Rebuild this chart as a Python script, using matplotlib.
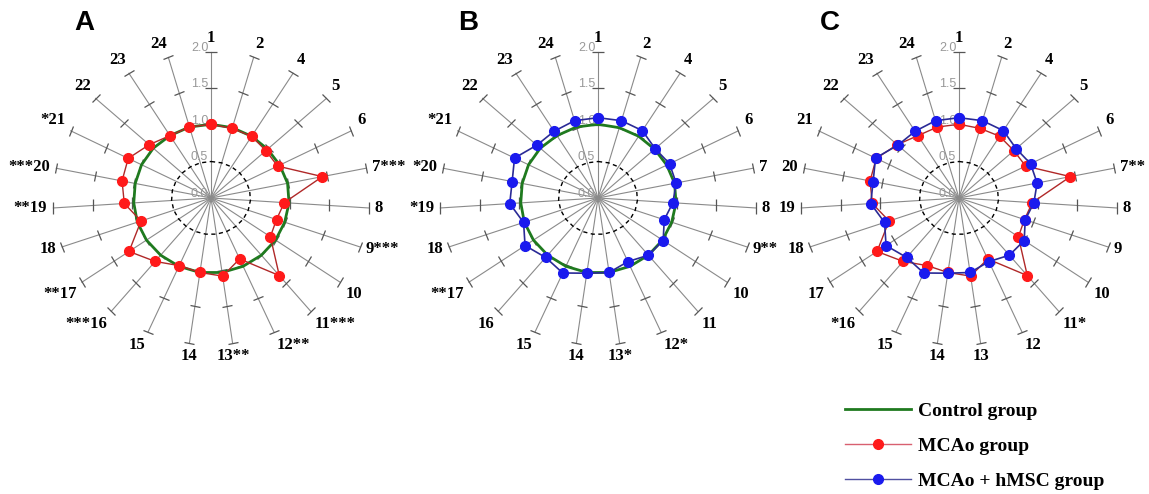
import numpy as np
import matplotlib.pyplot as plt
from matplotlib.markers import MarkerStyle
from matplotlib.transforms import Affine2D, offset_copy
from matplotlib.lines import Line2D

# test items on the spokes (no 3), clockwise from the top
items = ['1', '2', '4', '5', '6', '7', '8', '9', '10', '11', '12', '13',
         '14', '15', '16', '17', '18', '19', '20', '21', '22', '23', '24']

# spoke labels with significance stars, one list per panel
labels_a = ['1', '2', '4', '5', '6', '7***', '8', '9***', '10', '11***', '12**', '13**',
            '14', '15', '***16', '**17', '18', '**19', '***20', '*21', '22', '23', '24']
labels_b = ['1', '2', '4', '5', '6', '7', '8', '9**', '10', '11', '12*', '13*',
            '14', '15', '16', '**17', '18', '*19', '*20', '*21', '22', '23', '24']
labels_c = ['1', '2', '4', '5', '6', '7**', '8', '9', '10', '11*', '12', '13',
            '14', '15', '*16', '17', '18', '19', '20', '21', '22', '23', '24']

# normalised scores
control = [1.01, 1.00, 0.99, 0.98, 0.98, 0.99, 0.99, 0.99, 1.00, 1.01, 1.02, 1.03,
           1.03, 1.02, 1.01, 1.00, 0.99, 0.98, 0.98, 0.99, 1.00, 1.00, 1.01]
mcao = [1.01, 0.99, 0.99, 0.95, 0.95, 1.44, 0.93, 0.88, 0.92, 1.37, 0.91, 1.08,
        1.03, 1.01, 1.12, 1.27, 0.94, 1.10, 1.15, 1.18, 1.07, 1.00, 1.01]
hmsc = [1.10, 1.10, 1.08, 0.99, 1.02, 1.01, 0.95, 0.89, 1.01, 1.01, 0.95, 1.03,
        1.04, 1.12, 1.05, 1.13, 1.00, 1.12, 1.11, 1.19, 1.06, 1.07, 1.10]

rticks = [0.0, 0.5, 1.0, 1.5, 2.0]

W, H = 1149, 494
fig = plt.figure(figsize=(W / 100, H / 100), dpi=100)

n = len(items)
theta = np.arange(n) * 2 * np.pi / n
tclosed = np.append(theta, theta[0])

GREEN = '#1f7a1f'
RED_LINE = '#b02828'
RED_DOT = '#ff1a1a'
BLUE_LINE = '#2a2a96'
BLUE_DOT = '#1a1aee'
SERIF = 'Liberation Serif'
SANS = 'Liberation Sans'


def closed(vals):
    return list(vals) + [vals[0]]


def radar(cx, cy, labels, series, letter, lx):
    RX, RY = 158, 146   # the original panels are a little wider than tall
    ax = fig.add_axes([(cx - RX) / W, 1 - (cy + RY) / H, 2 * RX / W, 2 * RY / H],
                      projection='polar')
    ax.set_aspect('auto')
    ax.set_theta_zero_location('N')
    ax.set_theta_direction(-1)
    ax.set_ylim(0, 2.0)
    ax.axis('off')

    # spokes with tick marks
    for t in theta:
        ax.plot([t, t], [0, 2.0], color='#8a8a8a', lw=0.8, clip_on=False, zorder=1)
        ang = np.degrees(np.arctan2(RY * np.cos(t), RX * np.sin(t)))
        m = MarkerStyle('_', transform=Affine2D().rotate_deg(ang - 90))
        ax.plot([t, t, t], [1.0, 1.5, 2.0], ls='none', marker=m, ms=8,
                mec='#555555', mew=0.9, clip_on=False, zorder=1)
    ax.plot(tclosed, [0.5] * (n + 1), color='black', lw=1, ls=(0, (3, 2.5)), zorder=2)

    # radial scale labels next to the first spoke
    tr = offset_copy(ax.transData, fig=fig, x=-2, y=3, units='points')
    for v in rticks:
        ax.text(0, v, f'{v:.1f}', transform=tr, ha='right', va='center',
                fontsize=9, color='#999999', family=SANS, zorder=2)

    for t, lab in zip(theta, labels):
        s, c = np.sin(t), np.cos(t)
        ha = 'left' if s > 0.15 else ('right' if s < -0.15 else 'center')
        va = 'bottom' if c > 0.4 else ('top' if c < -0.4 else 'center')
        ax.text(t, 2.08, lab, ha=ha, va=va, fontsize=12, fontweight='bold',
                family=SERIF, clip_on=False)

    if 'control' in series:
        ax.plot(tclosed, closed(control), color=GREEN, lw=2, zorder=3)
    if 'mcao' in series:
        ax.plot(tclosed, closed(mcao), color=RED_LINE, lw=1, marker='o', ms=7,
                mfc=RED_DOT, mec=RED_DOT, zorder=4)
    if 'hmsc' in series:
        ax.plot(tclosed, closed(hmsc), color=BLUE_LINE, lw=1.2, marker='o', ms=7,
                mfc=BLUE_DOT, mec=BLUE_DOT, zorder=5)

    fig.text(lx / W, 1 - 23 / H, letter, ha='left', va='center', fontsize=20,
             fontweight='bold', family=SANS)
    return ax


radar(211, 198, labels_a, ['control', 'mcao'], 'A', 74)
radar(598, 198, labels_b, ['control', 'hmsc'], 'B', 458)
radar(959, 198, labels_c, ['mcao', 'hmsc'], 'C', 820)

handles = [
    Line2D([], [], color=GREEN, lw=2),
    Line2D([], [], color='#d86070', lw=1, marker='o', ms=7, mfc=RED_DOT, mec=RED_DOT),
    Line2D([], [], color='#5050a0', lw=1, marker='o', ms=7, mfc=BLUE_DOT, mec=BLUE_DOT),
]
fig.legend(handles, ['Control group', 'MCAo group', 'MCAo + hMSC group'],
           loc='upper left', bbox_to_anchor=(845 / W, 1 - 402 / H),
           frameon=False, borderpad=0, borderaxespad=0, handlelength=3.4,
           handletextpad=0.33, labelspacing=0.9,
           prop={'family': SERIF, 'weight': 'bold', 'size': 14})

fig.savefig('out.png', dpi=100)
